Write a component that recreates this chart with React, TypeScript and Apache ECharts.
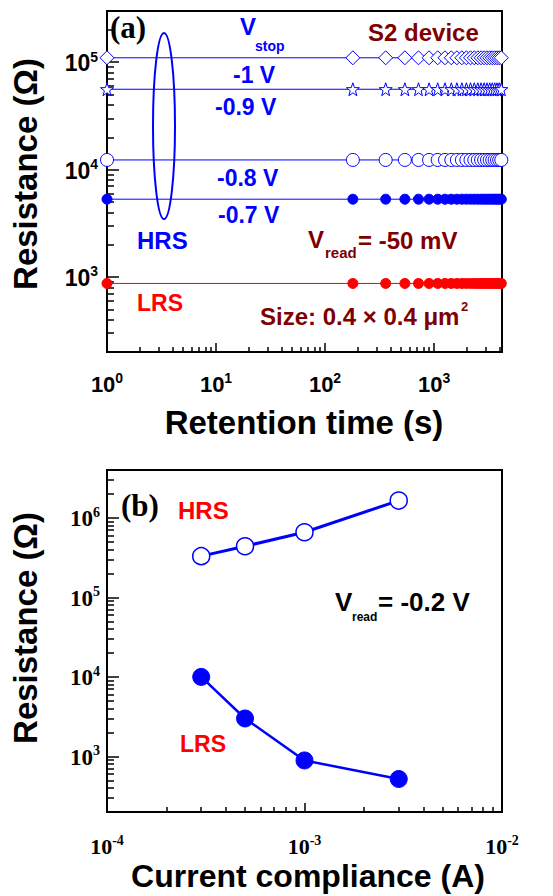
import React, { useEffect, useRef } from 'react';
import * as echarts from 'echarts';

// ---- Panel (a): retention ----
const retentionTimes = [1, 180, 360, 540, 720, 900, 1080, 1260, 1440, 1620, 1800, 1980, 2160, 2340, 2520, 2700, 2880, 3060, 3240, 3420, 3600, 3780, 3960, 4140];
const hrsStop1V = [110000, 110000, 110000, 110000, 110000, 110000, 110000, 110000, 110000, 110000, 110000, 110000, 110000, 110000, 110000, 110000, 110000, 110000, 110000, 110000, 110000, 110000, 110000, 110000];
const hrsStop09V = [56000, 56000, 56000, 56000, 56000, 56000, 56000, 56000, 56000, 56000, 56000, 56000, 56000, 56000, 56000, 56000, 56000, 56000, 56000, 56000, 56000, 56000, 56000, 56000];
const hrsStop08V = [12300, 12300, 12300, 12300, 12300, 12300, 12300, 12300, 12300, 12300, 12300, 12300, 12300, 12300, 12300, 12300, 12300, 12300, 12300, 12300, 12300, 12300, 12300, 12300];
const hrsStop07V = [5300, 5300, 5300, 5300, 5300, 5300, 5300, 5300, 5300, 5300, 5300, 5300, 5300, 5300, 5300, 5300, 5300, 5300, 5300, 5300, 5300, 5300, 5300, 5300];
const lrsRetention = [870, 870, 870, 870, 870, 870, 870, 870, 870, 870, 870, 870, 870, 870, 870, 870, 870, 870, 870, 870, 870, 870, 870, 870];
const retentionXRange = [1, 4200];
const retentionYRange = [200, 300000];

// ---- Panel (b): current compliance ----
const complianceCurrents = [3e-4, 5e-4, 1e-3, 3e-3];
const hrsCompliance = [330000, 440000, 660000, 1650000];
const lrsCompliance = [10000, 3000, 890, 520];
const complianceXRange = [1e-4, 1e-2];
const complianceYRange = [200, 4000000];

const BLUE = '#0000ff';
const RED = '#ff0000';
const DARKRED = '#800000';
const SANS = '"Liberation Sans", Arial, sans-serif';
const SERIF = '"Liberation Serif", "Times New Roman", serif';

const STAR = 'path://M50 0 L61.76 33.82 L97.55 34.55 L69.02 56.18 L79.39 90.45 L50 70 L20.61 90.45 L30.98 56.18 L2.45 34.55 L38.24 33.82 Z';

const zip = (xs: number[], ys: number[]) => xs.map((x, i) => [x, ys[i]]);

const powFormatter = (v: number) => {
  const e = Math.log10(v);
  const r = Math.round(e);
  if (Math.abs(e - r) > 1e-6) return '';
  return `{b|10}{s|${r}}`;
};

const richSans = (base: number, sup: number) => ({
  b: { fontFamily: SANS, fontWeight: 'bold', fontSize: base, lineHeight: base + 2, color: '#000', verticalAlign: 'bottom' },
  s: { fontFamily: SANS, fontWeight: 'bold', fontSize: sup, lineHeight: sup + 1, color: '#000', verticalAlign: 'top' },
});
const richSerif = (base: number, sup: number) => ({
  b: { fontFamily: SERIF, fontWeight: 'bold', fontSize: base, lineHeight: base + 2, color: '#000', verticalAlign: 'bottom' },
  s: { fontFamily: SERIF, fontWeight: 'bold', fontSize: sup, lineHeight: sup + 1, color: '#000', verticalAlign: 'top' },
});

// negative lengths point the ticks into the plot area
const ticks = (majorLen: number, minorLen: number) => ({
  axisLine: { show: true, onZero: false, lineStyle: { color: '#000', width: 2 } },
  axisTick: { show: true, inside: false, length: -majorLen, lineStyle: { color: '#000', width: 1.5 } },
  minorTick: { show: true, splitNumber: 9, length: -minorLen, lineStyle: { color: '#000', width: 1.5 } },
  splitLine: { show: false },
  minorSplitLine: { show: false },
});

const txt = (text: string, x: number, y: number, color: string, font: string, align = 'left') => ({
  type: 'text',
  x,
  y,
  z: 10,
  style: { text, fill: color, font, textAlign: align, textVerticalAlign: 'middle' },
});

export default function App() {
  const ref = useRef<HTMLDivElement>(null);
  useEffect(() => {
    document.body.style.margin = '0';
    const chart = echarts.init(ref.current!, null, { renderer: 'svg' });
    const option: any = {
      animation: false,
      backgroundColor: '#fff',
      grid: [
        { left: 107, top: 11, width: 395, height: 341, show: true, borderColor: '#000', borderWidth: 2 },
        { left: 107, top: 470, width: 395, height: 342, show: true, borderColor: '#000', borderWidth: 2 },
      ],
      xAxis: [
        {
          type: 'log', logBase: 10, gridIndex: 0,
          min: retentionXRange[0], max: retentionXRange[1],
          ...ticks(9, 5),
          axisLabel: { formatter: powFormatter, margin: 19, rich: richSans(22, 14) },
        },
        {
          type: 'log', logBase: 10, gridIndex: 1,
          min: complianceXRange[0], max: complianceXRange[1],
          ...ticks(9, 5),
          axisLabel: { formatter: powFormatter, margin: 21, rich: richSerif(22, 14) },
        },
      ],
      yAxis: [
        {
          type: 'log', logBase: 10, gridIndex: 0,
          min: retentionYRange[0], max: retentionYRange[1],
          ...ticks(12, 7),
          axisLabel: { formatter: powFormatter, margin: 9, rich: richSans(23, 14) },
        },
        {
          type: 'log', logBase: 10, gridIndex: 1,
          min: complianceYRange[0], max: complianceYRange[1],
          ...ticks(12, 7),
          axisLabel: { formatter: powFormatter, margin: 7, rich: richSerif(23, 14) },
        },
      ],
      series: [
        {
          type: 'line', xAxisIndex: 0, yAxisIndex: 0, data: zip(retentionTimes, hrsStop1V),
          symbol: 'diamond', symbolSize: 14, showAllSymbol: true,
          lineStyle: { color: BLUE, width: 1 }, itemStyle: { color: '#fff', borderColor: BLUE, borderWidth: 1 },
        },
        {
          type: 'line', xAxisIndex: 0, yAxisIndex: 0, data: zip(retentionTimes, hrsStop09V),
          symbol: STAR, symbolSize: 13, showAllSymbol: true,
          lineStyle: { color: BLUE, width: 1 }, itemStyle: { color: '#fff', borderColor: BLUE, borderWidth: 1 },
        },
        {
          type: 'line', xAxisIndex: 0, yAxisIndex: 0, data: zip(retentionTimes, hrsStop08V),
          symbol: 'circle', symbolSize: 13, showAllSymbol: true,
          lineStyle: { color: BLUE, width: 1 }, itemStyle: { color: '#fff', borderColor: BLUE, borderWidth: 1 },
        },
        {
          type: 'line', xAxisIndex: 0, yAxisIndex: 0, data: zip(retentionTimes, hrsStop07V),
          symbol: 'circle', symbolSize: 10, showAllSymbol: true,
          lineStyle: { color: BLUE, width: 1 }, itemStyle: { color: BLUE, borderColor: BLUE, borderWidth: 1 },
        },
        {
          type: 'line', xAxisIndex: 0, yAxisIndex: 0, data: zip(retentionTimes, lrsRetention),
          symbol: 'circle', symbolSize: 10, showAllSymbol: true,
          lineStyle: { color: RED, width: 1 }, itemStyle: { color: RED, borderColor: RED, borderWidth: 1 },
        },
        {
          type: 'line', xAxisIndex: 1, yAxisIndex: 1, data: zip(complianceCurrents, hrsCompliance),
          symbol: 'circle', symbolSize: 17, showAllSymbol: true,
          lineStyle: { color: BLUE, width: 3 }, itemStyle: { color: '#fff', borderColor: BLUE, borderWidth: 1.5 },
        },
        {
          type: 'line', xAxisIndex: 1, yAxisIndex: 1, data: zip(complianceCurrents, lrsCompliance),
          symbol: 'circle', symbolSize: 17, showAllSymbol: true,
          lineStyle: { color: BLUE, width: 2.5 }, itemStyle: { color: BLUE, borderColor: BLUE, borderWidth: 1 },
        },
      ],
      graphic: [
        { type: 'text', x: 25, y: 174, rotation: Math.PI / 2, z: 10,
          style: { text: 'Resistance (Ω)', fill: '#000', font: `bold 33px ${SANS}`, textAlign: 'center', textVerticalAlign: 'middle' } },
        { type: 'text', x: 25, y: 628, rotation: Math.PI / 2, z: 10,
          style: { text: 'Resistance (Ω)', fill: '#000', font: `bold 33px ${SANS}`, textAlign: 'center', textVerticalAlign: 'middle' } },
        txt('Retention time (s)', 304, 422, '#000', `bold 33px ${SANS}`, 'center'),
        txt('Current compliance (A)', 308, 876, '#000', `bold 32px ${SANS}`, 'center'),
        txt('(a)', 110, 27, '#000', `bold 31px ${SERIF}`),
        txt('V', 240, 26, BLUE, `bold 24px ${SANS}`),
        txt('stop', 255, 46, BLUE, `bold 14px ${SANS}`),
        txt('S2 device', 368, 32, DARKRED, `bold 24px ${SANS}`),
        txt('-1 V', 233, 75, BLUE, `bold 23px ${SANS}`),
        txt('-0.9 V', 215, 107, BLUE, `bold 23px ${SANS}`),
        txt('-0.8 V', 217, 178, BLUE, `bold 23px ${SANS}`),
        txt('-0.7 V', 218, 215, BLUE, `bold 23px ${SANS}`),
        txt('HRS', 137, 240, BLUE, `bold 24px ${SANS}`),
        txt('V', 308, 239, DARKRED, `bold 24px ${SANS}`),
        txt('read', 325, 252, DARKRED, `bold 15px ${SANS}`),
        txt('= -50 mV', 358, 240, DARKRED, `bold 24px ${SANS}`),
        txt('LRS', 137, 303, RED, `bold 23px ${SANS}`),
        txt('Size: 0.4 × 0.4 μm', 260, 316, DARKRED, `bold 24px ${SANS}`),
        txt('2', 461, 306, DARKRED, `bold 13px ${SANS}`),
        { type: 'ellipse', z: 10, shape: { cx: 164, cy: 126, rx: 11, ry: 93 },
          style: { fill: 'none', stroke: BLUE, lineWidth: 2 } },
        txt('(b)', 121, 505, '#000', `bold 31px ${SERIF}`),
        txt('HRS', 178, 510, RED, `bold 24px ${SANS}`),
        txt('V', 335, 602, '#000', `bold 26px ${SANS}`),
        txt('read', 352, 617, '#000', `bold 12px ${SANS}`),
        txt('= -0.2 V', 378, 602, '#000', `bold 26px ${SANS}`),
        txt('LRS', 180, 744, RED, `bold 23px ${SANS}`),
      ],
    };
    chart.setOption(option);
    return () => chart.dispose();
  }, []);
  return <div ref={ref} style={{ width: 553, height: 896 }} />;
}
